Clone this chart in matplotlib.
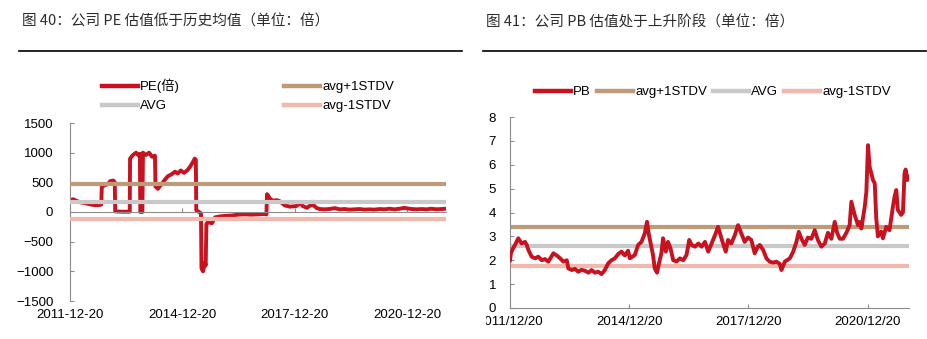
import pandas as pd
import matplotlib
matplotlib.use('Agg')
from matplotlib import pyplot as plt
from matplotlib.lines import Line2D
from matplotlib.transforms import Bbox, TransformedBbox

plt.rcParams['font.family'] = ['Liberation Sans', 'Noto Sans CJK SC']

# ---- PE (left) ----
pe_dates = ['2011-12-20', '2012-01-20', '2012-02-20', '2012-03-25', '2012-05-15', '2012-07-01',
            '2012-08-20', '2012-10-10', '2012-10-20', '2012-10-25', '2012-11-20', '2012-12-25',
            '2013-01-15', '2013-02-15', '2013-03-01', '2013-03-05', '2013-05-15', '2013-07-25',
            '2013-07-28', '2013-08-25', '2013-09-25', '2013-10-20', '2013-11-01', '2013-11-05',
            '2013-11-25', '2013-12-01', '2013-12-30', '2014-01-30', '2014-02-28', '2014-03-28',
            '2014-04-02', '2014-04-25', '2014-06-01', '2014-07-01', '2014-07-30', '2014-09-10',
            '2014-10-10', '2014-11-05', '2014-12-05', '2015-01-05', '2015-02-05', '2015-03-05',
            '2015-04-05', '2015-04-20', '2015-05-01', '2015-05-05', '2015-06-01', '2015-06-20',
            '2015-06-25', '2015-07-10', '2015-07-28', '2015-08-05', '2015-08-12', '2015-08-25',
            '2015-10-05', '2015-11-05', '2015-12-20', '2016-02-15', '2016-04-15', '2016-06-15',
            '2016-08-20', '2016-10-25', '2016-12-25', '2017-02-15', '2017-03-20', '2017-03-25',
            '2017-04-05', '2017-04-20', '2017-05-20', '2017-07-01', '2017-07-30', '2017-09-15',
            '2017-11-05', '2018-01-05', '2018-02-10', '2018-03-10', '2018-04-20', '2018-05-20',
            '2018-06-20', '2018-07-20', '2018-08-20', '2018-10-10', '2018-11-25', '2019-01-15',
            '2019-03-05', '2019-04-20', '2019-06-10', '2019-07-30', '2019-09-15', '2019-11-05',
            '2019-12-20', '2020-02-05', '2020-03-30', '2020-05-15', '2020-07-01', '2020-08-20',
            '2020-10-10', '2020-11-25', '2020-12-25', '2021-02-05', '2021-03-25', '2021-05-10',
            '2021-06-30', '2021-08-15', '2021-10-05', '2021-11-25', '2022-01-01']
pe_values = [200, 215, 190, 165, 150, 130,
             115, 120, 125, 420, 450, 470,
             520, 530, 500, 10, 5, 5,
             900, 960, 1000, 950, 980, 0,
             0, 1000, 960, 1000, 930, 950,
             430, 390, 470, 540, 600, 640,
             680, 650, 700, 660, 700, 760,
             850, 900, 880, 30, 0, -20,
             -950, -1000, -850, -900, -200, -170,
             -190, -90, -75, -65, -60, -45,
             -40, -45, -40, -35, -40, 300,
             280, 230, 190, 200, 180, 110,
             90, 100, 150, 100, 70, 110,
             120, 70, 50, 45, 50, 65,
             45, 50, 40, 45, 50, 40,
             45, 40, 50, 45, 55, 45,
             55, 70, 60, 50, 45, 50,
             45, 55, 45, 50, 55]
pe_avg = 175
pe_up = 465
pe_dn = -120

# ---- PB (right) ----
pb_dates = ['2011-12-20', '2011-12-29', '2012-01-17', '2012-02-04', '2012-03-05', '2012-04-05',
            '2012-05-06', '2012-05-22', '2012-06-06', '2012-07-06', '2012-08-06', '2012-09-05',
            '2012-10-07', '2012-11-06', '2012-12-06', '2013-01-22', '2013-02-22', '2013-03-25',
            '2013-04-24', '2013-05-25', '2013-06-08', '2013-07-10', '2013-08-08', '2013-09-08',
            '2013-10-08', '2013-11-08', '2013-12-10', '2014-01-08', '2014-02-08', '2014-03-10',
            '2014-04-10', '2014-05-10', '2014-06-10', '2014-07-10', '2014-08-10', '2014-09-10',
            '2014-10-10', '2014-11-10', '2014-12-10', '2014-12-26', '2015-02-10', '2015-03-12',
            '2015-04-12', '2015-05-12', '2015-06-02', '2015-06-20', '2015-07-12', '2015-07-27',
            '2015-08-12', '2015-09-02', '2015-09-20', '2015-10-12', '2015-10-27', '2015-11-22',
            '2015-12-12', '2016-01-04', '2016-01-29', '2016-02-29', '2016-03-30', '2016-04-30',
            '2016-05-30', '2016-06-24', '2016-07-16', '2016-08-16', '2016-09-16', '2016-10-16',
            '2016-11-16', '2016-12-16', '2017-01-16', '2017-02-16', '2017-03-16', '2017-04-08',
            '2017-05-01', '2017-05-26', '2017-06-16', '2017-07-16', '2017-08-17', '2017-09-16',
            '2017-10-16', '2017-11-16', '2017-12-16', '2018-01-16', '2018-02-16', '2018-03-17',
            '2018-04-04', '2018-05-05', '2018-06-04', '2018-07-04', '2018-08-04', '2018-09-04',
            '2018-10-04', '2018-10-20', '2018-11-20', '2019-01-05', '2019-02-05', '2019-03-07',
            '2019-03-28', '2019-04-22', '2019-05-22', '2019-06-20', '2019-07-22', '2019-08-22',
            '2019-09-20', '2019-10-22', '2019-11-22', '2019-12-22', '2020-01-22', '2020-02-22',
            '2020-03-15', '2020-04-08', '2020-05-08', '2020-06-08', '2020-07-08', '2020-07-24',
            '2020-08-24', '2020-09-23', '2020-10-08', '2020-10-24', '2020-11-24', '2020-12-09',
            '2020-12-24', '2021-01-08', '2021-02-08', '2021-02-24', '2021-03-10', '2021-03-25',
            '2021-04-25', '2021-05-10', '2021-06-10', '2021-07-10', '2021-08-10', '2021-08-25',
            '2021-09-10', '2021-09-25', '2021-10-25', '2021-11-10', '2021-11-25', '2021-12-05',
            '2021-12-20', '2022-01-01']
pb_values = [2.0, 2.3, 2.5, 2.64, 2.92, 2.7,
             2.77, 2.64, 2.43, 2.15, 2.08, 2.15,
             2.0, 2.05, 1.94, 2.29, 2.2, 2.08,
             1.94, 2.0, 1.66, 1.59, 1.64, 1.52,
             1.6, 1.56, 1.48, 1.59, 1.48, 1.52,
             1.42, 1.59, 1.87, 2.0, 2.08, 2.26,
             2.36, 2.2, 2.4, 2.08, 2.22, 2.64,
             2.77, 3.12, 3.61, 3.05, 2.57, 2.22,
             1.66, 1.48, 1.87, 2.29, 2.92, 2.36,
             2.77, 2.5, 2.0, 1.95, 2.08, 2.0,
             2.22, 2.85, 2.64, 2.57, 2.7, 2.57,
             2.77, 2.36, 2.7, 3.05, 3.4, 3.05,
             2.7, 2.36, 2.85, 2.7, 3.05, 3.47,
             3.12, 2.77, 2.95, 2.85, 2.29, 2.57,
             2.64, 2.43, 2.08, 1.94, 1.9, 1.94,
             1.85, 1.59, 1.94, 2.08, 2.36, 2.77,
             3.19, 2.9, 2.64, 2.95, 2.9, 3.26,
             2.85, 2.57, 2.7, 3.15, 2.9, 3.61,
             3.15, 2.9, 2.9, 3.15, 3.47, 4.45,
             3.89, 3.47, 3.6, 3.33, 4.24, 4.87,
             6.82, 5.91, 5.36, 5.22, 3.75, 3.0,
             3.2, 2.92, 3.4, 3.26, 4.24, 4.66,
             4.94, 4.1, 3.9, 4.0, 5.64, 5.8,
             5.36, 5.5]
pb_avg = 2.59
pb_up = 3.40
pb_dn = 1.77

tick_dates = ['2011-12-20', '2014-12-20', '2017-12-20', '2020-12-20']
pe_ticklabels = ['2011-12-20', '2014-12-20', '2017-12-20', '2020-12-20']
pb_ticklabels = ['2011/12/20', '2014/12/20', '2017/12/20', '2020/12/20']

red = '#C8121F'
brown = '#BD9B78'
gray = '#C9C9C9'
pink = '#F1B8AD'
spine_c = '#8C8C8C'
title_c = '#2B2B2B'
txt_font = ['Liberation Sans', 'Noto Sans CJK SC']

fig = plt.figure(figsize=(9.28, 3.39), dpi=100)
W, H = 928.0, 339.0

def fx(px):
    return px / W

def fy(py):
    return 1 - py / H

xlim = (pd.Timestamp('2011-12-20'), pd.Timestamp('2022-01-05'))
ticks = pd.to_datetime(tick_dates)

# titles and rules
fig.text(fx(22), fy(22), '图 40：公司 PE 估值低于历史均值（单位：倍）', family=['Noto Sans CJK SC'],
         fontsize=10.5, color=title_c, va='center', ha='left')
fig.text(fx(486), fy(22), '图 41：公司 PB 估值处于上升阶段（单位：倍）', family=['Noto Sans CJK SC'],
         fontsize=10.5, color=title_c, va='center', ha='left')
fig.add_artist(Line2D([fx(19), fx(462)], [fy(51), fy(51)], color='black', lw=1.2))
fig.add_artist(Line2D([fx(483), fx(926)], [fy(51), fy(51)], color='black', lw=1.2))

#%% PE
ax1 = fig.add_axes([fx(70), fy(301), fx(446) - fx(70), fy(123) - fy(301)])
l_pe, = ax1.plot(pd.to_datetime(pe_dates), pe_values, color=red, lw=2.8, zorder=2)
l_up = ax1.axhline(pe_up, color=brown, lw=3, zorder=3)
l_avg = ax1.axhline(pe_avg, color=gray, lw=3, zorder=3)
l_dn = ax1.axhline(pe_dn, color=pink, lw=3, zorder=3)
ax1.set_ylim(-1500, 1500)
ax1.set_yticks([-1500, -1000, -500, 0, 500, 1000, 1500])
ax1.set_xlim(*xlim)
ax1.set_xticks(ticks)
ax1.set_xticklabels([])
ax1.spines['bottom'].set_position(('data', 0))
for s in ['top', 'right']:
    ax1.spines[s].set_visible(False)
for s in ['left', 'bottom']:
    ax1.spines[s].set_color(spine_c)
    ax1.spines[s].set_linewidth(0.8)
ax1.tick_params(axis='both', direction='in', length=3, color=spine_c, labelsize=9.5)
ax1.tick_params(axis='y', pad=12)
for lab in ax1.get_yticklabels():
    lab.set_family(txt_font)
sec = ax1.secondary_xaxis('bottom')
sec.set_xticks(ticks)
sec.set_xticklabels(pe_ticklabels, family=txt_font)
sec.spines['bottom'].set_visible(False)
sec.tick_params(length=0, labelsize=9.5, pad=6)

leg1 = fig.legend([l_pe, l_avg, l_up, l_dn], ['PE(倍)', 'AVG', 'avg+1STDV', 'avg-1STDV'],
                  ncol=2, loc='upper left', bbox_to_anchor=(fx(102), fy(79)), frameon=False,
                  prop={'family': txt_font, 'size': 9.5}, handlelength=2.7, handletextpad=0.2,
                  columnspacing=7.9, labelspacing=0.5, borderpad=0, borderaxespad=0)
for h in leg1.legend_handles:
    h.set_linewidth(3.2)

#%% PB
ax2 = fig.add_axes([fx(510), fy(308), fx(909) - fx(510), fy(117) - fy(308)])
p_pb, = ax2.plot(pd.to_datetime(pb_dates), pb_values, color=red, lw=2.8, zorder=3)
p_up = ax2.axhline(pb_up, color=brown, lw=3, zorder=2)
p_avg = ax2.axhline(pb_avg, color=gray, lw=3, zorder=2)
p_dn = ax2.axhline(pb_dn, color=pink, lw=3, zorder=2)
ax2.set_ylim(0, 8)
ax2.set_yticks(range(0, 9))
ax2.set_xlim(*xlim)
ax2.set_xticks(ticks)
ax2.set_xticklabels(pb_ticklabels, family=txt_font)
for s in ['top', 'right']:
    ax2.spines[s].set_visible(False)
for s in ['left', 'bottom']:
    ax2.spines[s].set_color(spine_c)
    ax2.spines[s].set_linewidth(0.8)
ax2.tick_params(axis='both', direction='in', length=3, color=spine_c, labelsize=9.5)
ax2.tick_params(axis='y', pad=10)
ax2.tick_params(axis='x', pad=6)
for lab in ax2.get_yticklabels():
    lab.set_family(txt_font)
# the first date label is cut by the panel edge in the source picture
clip = TransformedBbox(Bbox([[fx(485.5), 0], [1, 1]]), fig.transFigure)
for lab in ax2.get_xticklabels():
    lab.set_clip_box(clip)
    lab.set_clip_on(True)

leg2 = fig.legend([p_pb, p_up, p_avg, p_dn], ['PB', 'avg+1STDV', 'AVG', 'avg-1STDV'],
                  ncol=4, loc='upper left', bbox_to_anchor=(fx(535), fy(86)), frameon=False,
                  prop={'family': txt_font, 'size': 9.5}, handlelength=2.7, handletextpad=0.2,
                  columnspacing=0.45, borderpad=0, borderaxespad=0)
for h in leg2.legend_handles:
    h.set_linewidth(3.2)

plt.savefig('out.png', dpi=100)
